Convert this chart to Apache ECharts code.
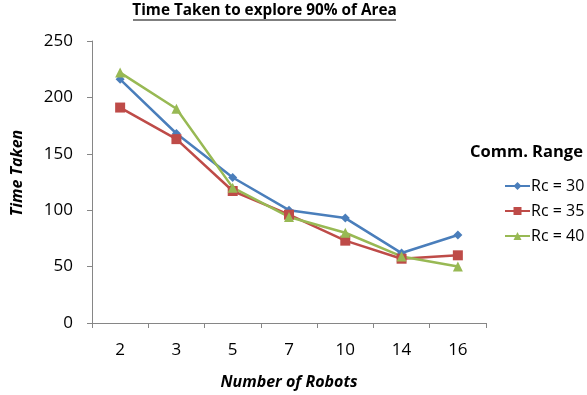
<!DOCTYPE html>
<html>
<head>
<meta charset="utf-8">
<script src="https://cdn.jsdelivr.net/npm/echarts@6/dist/echarts.min.js"></script>
<style>
  html, body { margin: 0; padding: 0; background: #fff; }
  #chart { width: 587px; height: 395px; }
</style>
</head>
<body>
<div id="chart"></div>
<script>
// Robots deployed and time needed to explore 90% of the area
const robotCounts = ['2', '3', '5', '7', '10', '14', '16'];
const rc30 = [216, 168, 129, 100, 93, 62, 78];
const rc35 = [191, 163, 117, 96, 73, 57, 60];
const rc40 = [222, 190, 120, 94, 80, 59, 50];
const yTicks = [0, 50, 100, 150, 200, 250];

const FONT = '"Open Sans", Lato, sans-serif';
const chart = echarts.init(document.getElementById('chart'));

const seriesDefs = [
  { name: 'Rc = 30', data: rc30, color: '#4A7EBB', symbol: 'diamond', size: 9 },
  { name: 'Rc = 35', data: rc35, color: '#BE4B48', symbol: 'rect', size: 10 },
  { name: 'Rc = 40', data: rc40, color: '#98B954', symbol: 'triangle', size: 10 }
];

chart.setOption({
  animation: false,
  backgroundColor: '#fff',
  graphic: [{
    // underlined chart title
    type: 'text',
    x: 264.5, y: 11,
    style: {
      text: 'Time Taken to explore 90% of Area', font: 'bold 15.3px ' + FONT, fill: '#000',
      align: 'center', verticalAlign: 'middle'
    }
  }, {
    type: 'line',
    shape: { x1: 133, y1: 20, x2: 396, y2: 20 },
    style: { stroke: '#000', lineWidth: 1.2 }
  }, {
    type: 'text',
    left: 470, top: 144,
    style: { text: 'Comm. Range', font: 'bold 16.5px ' + FONT, fill: '#000' }
  }, {
    type: 'text',
    x: 17, y: 173, rotation: Math.PI / 2,
    style: {
      text: 'Time Taken', font: 'italic bold 16px ' + FONT, fill: '#000',
      align: 'center', verticalAlign: 'middle'
    }
  }],
  legend: {
    orient: 'vertical',
    left: 499, top: 173,
    itemGap: 9,
    itemWidth: 25, itemHeight: 10,
    textStyle: { fontFamily: FONT, fontSize: 16, color: '#000', padding: [0, 0, 0, -4] },
    data: seriesDefs.map(s => s.name)
  },
  grid: { left: 92, top: 41, width: 394, height: 282 },
  xAxis: {
    type: 'category',
    data: robotCounts,
    boundaryGap: true,
    name: 'Number of Robots',
    nameLocation: 'middle', nameGap: 51,
    nameTextStyle: { fontFamily: FONT, fontSize: 16, fontWeight: 'bold', fontStyle: 'italic', color: '#000' },
    axisLine: { lineStyle: { color: '#868686', width: 1 } },
    axisTick: { show: true, length: 5, alignWithLabel: false, lineStyle: { color: '#868686' } },
    axisLabel: { fontFamily: FONT, fontSize: 17, color: '#000', margin: 19 }
  },
  yAxis: {
    type: 'value',
    min: 0, max: 250, interval: 50,
    axisLine: { show: true, lineStyle: { color: '#868686', width: 1 } },
    axisTick: { show: true, length: 5, lineStyle: { color: '#868686' } },
    splitLine: { show: false },
    axisLabel: {
      fontFamily: FONT, fontSize: 17, color: '#000', margin: 19,
      formatter: v => (yTicks.includes(v) ? String(v) : '')
    }
  },
  series: seriesDefs.map(s => ({
    name: s.name,
    type: 'line',
    data: s.data,
    symbol: s.symbol,
    symbolSize: s.size,
    showSymbol: true,
    lineStyle: { color: s.color, width: 2.5 },
    itemStyle: { color: s.color },
    emphasis: { disabled: true }
  }))
});
</script>
</body>
</html>
